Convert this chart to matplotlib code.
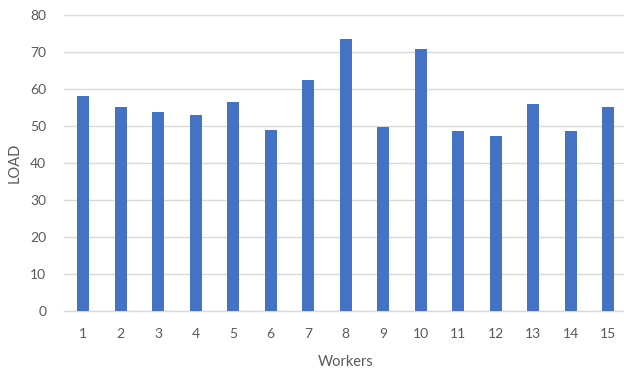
import matplotlib.pyplot as plt

# load per worker
workers = [str(i) for i in range(1, 16)]
load = [58.0, 55.0, 53.7, 53.0, 56.4, 49.0, 62.4, 73.4, 49.7, 70.8, 48.6, 47.3, 56.0, 48.6, 55.2]

plt.rcParams['font.family'] = ['Lato', 'DejaVu Sans']

fig = plt.figure(figsize=(6.24, 3.73), dpi=100)
ax = fig.add_axes([64.25 / 624, 62 / 373, 562.5 / 624, 296.3 / 373])

ax.bar(range(len(workers)), load, width=0.32, color='#4472C4', zorder=3)

ax.set_xlim(-0.5, len(workers) - 0.5)
ax.set_ylim(0, 80)
ax.set_yticks(range(0, 81, 10))
ax.set_xticks(range(len(workers)))
ax.set_xticklabels(workers)

ax.grid(True, axis='y', color='#d9d9d9', linewidth=1, zorder=0)
for side in ['top', 'right', 'left']:
    ax.spines[side].set_visible(False)
ax.spines['bottom'].set_color('#d9d9d9')
ax.spines['bottom'].set_linewidth(1)

ax.tick_params(axis='both', length=0, labelsize=10, labelcolor='#595959')
ax.tick_params(axis='y', pad=13)
ax.tick_params(axis='x', pad=12)

ax.set_xlabel('Workers', fontsize=10.5, color='#595959', labelpad=11)
ax.set_ylabel('LOAD', fontsize=10.5, color='#595959', labelpad=6)

fig.savefig('out.png', dpi=100)
